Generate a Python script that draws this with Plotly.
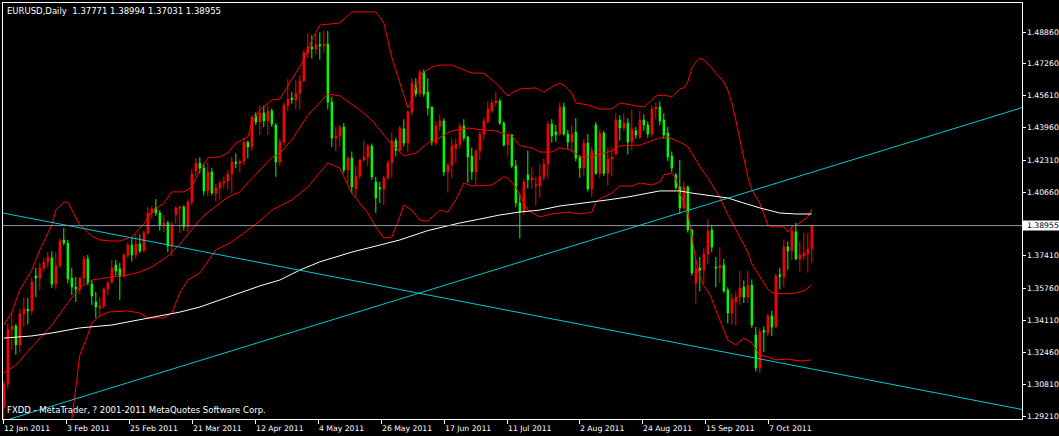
import plotly.graph_objects as go

# ---------------- data ----------------
opens = [
    1.2965, 1.3085, 1.3365, 1.3382, 1.3285, 1.3445, 1.3469, 1.3459, 1.3638, 1.3627,
    1.3679, 1.3709, 1.3730, 1.3596, 1.3690, 1.3822, 1.3806, 1.3627, 1.3581, 1.3571,
    1.3627, 1.3725, 1.3597, 1.3505, 1.3474, 1.3484, 1.3571, 1.3605, 1.3694, 1.3674,
    1.3638, 1.3745, 1.3796, 1.3745, 1.3801, 1.3766, 1.3858, 1.3960, 1.3986, 1.3960,
    1.3899, 1.3909, 1.3791, 1.3952, 1.3985, 1.3991, 1.3890, 1.4017, 1.4175, 1.4215,
    1.4190, 1.4073, 1.4170, 1.4060, 1.4088, 1.4114, 1.4124, 1.4160, 1.4221, 1.4214,
    1.4224, 1.4323, 1.4298, 1.4461, 1.4426, 1.4472, 1.4431, 1.4482, 1.4410, 1.4221,
    1.4323, 1.4513, 1.4548, 1.4540, 1.4574, 1.4636, 1.4779, 1.4810, 1.4799, 1.4822,
    1.4815, 1.4824, 1.4528, 1.4344, 1.4355, 1.4400, 1.4180, 1.4241, 1.4083, 1.4150,
    1.4231, 1.4246, 1.4303, 1.4119, 1.4090, 1.4083, 1.4139, 1.4216, 1.4330, 1.4280,
    1.4390, 1.4318, 1.4477, 1.4615, 1.4570, 1.4681, 1.4579, 1.4502, 1.4318, 1.4405,
    1.4431, 1.4170, 1.4206, 1.4290, 1.4312, 1.4405, 1.4349, 1.4252, 1.4170, 1.4277,
    1.4364, 1.4426, 1.4482, 1.4523, 1.4533, 1.4420, 1.4308, 1.4359, 1.4201, 1.4012,
    1.3965, 1.4155, 1.4130, 1.4100, 1.4100, 1.4145, 1.4211, 1.4415, 1.4375, 1.4364,
    1.4502, 1.4364, 1.4323, 1.4374, 1.4247, 1.4190, 1.4318, 1.4083, 1.4410, 1.4163,
    1.4369, 1.4163, 1.4236, 1.4262, 1.4436, 1.4395, 1.4420, 1.4323, 1.4380, 1.4349,
    1.4436, 1.4410, 1.4364, 1.4492, 1.4502, 1.4436, 1.4370, 1.4252, 1.4155, 1.4093,
    1.3986, 1.4093, 1.3873, 1.3600, 1.3679, 1.3668, 1.3750, 1.3873, 1.3684, 1.3679,
    1.3694, 1.3566, 1.3448, 1.3505, 1.3530, 1.3581, 1.3530, 1.3591, 1.3336, 1.3167,
    1.3360, 1.3346, 1.3433, 1.3377, 1.3645, 1.3633, 1.3786, 1.3766, 1.3863, 1.3725,
    1.3740, 1.3750, 1.37771,
]
highs = [
    1.3100, 1.3395, 1.3453, 1.3392, 1.3470, 1.3530, 1.3525, 1.3630, 1.3679, 1.3705,
    1.3730, 1.3760, 1.3765, 1.3760, 1.3830, 1.3883, 1.3822, 1.3678, 1.3633, 1.3633,
    1.3740, 1.3745, 1.3617, 1.3556, 1.3530, 1.3580, 1.3612, 1.3720, 1.3720, 1.3705,
    1.3755, 1.3810, 1.3835, 1.3850, 1.3850, 1.3870, 1.3990, 1.3995, 1.4032, 1.3975,
    1.3950, 1.3920, 1.3915, 1.3995, 1.3995, 1.4000, 1.4030, 1.4185, 1.4240, 1.4245,
    1.4210, 1.4220, 1.4190, 1.4110, 1.4125, 1.4145, 1.4180, 1.4245, 1.4265, 1.4235,
    1.4345, 1.4330, 1.4460, 1.4475, 1.4510, 1.4510, 1.4510, 1.4495, 1.4420, 1.4340,
    1.4525, 1.4645, 1.4580, 1.4640, 1.4665, 1.4795, 1.4880, 1.4870, 1.4880, 1.4885,
    1.4892, 1.4892, 1.4555, 1.4400, 1.4410, 1.4420, 1.4250, 1.4275, 1.4200, 1.4235,
    1.4330, 1.4315, 1.4315, 1.4145, 1.4120, 1.4150, 1.4230, 1.4375, 1.4345, 1.4405,
    1.4440, 1.4485, 1.4650, 1.4650, 1.4695, 1.4695, 1.4650, 1.4505, 1.4430, 1.4465,
    1.4445, 1.4215, 1.4340, 1.4340, 1.4420, 1.4440, 1.4355, 1.4295, 1.4285, 1.4380,
    1.4445, 1.4530, 1.4540, 1.4578, 1.4545, 1.4430, 1.4365, 1.4365, 1.4230, 1.4060,
    1.4135, 1.4280, 1.4195, 1.4145, 1.4210, 1.4240, 1.4430, 1.4440, 1.4410, 1.4525,
    1.4525, 1.4385, 1.4410, 1.4446, 1.4257, 1.4340, 1.4365, 1.4300, 1.4425, 1.4390,
    1.4380, 1.4290, 1.4295, 1.4470, 1.4460, 1.4470, 1.4445, 1.4490, 1.4400, 1.4480,
    1.4465, 1.4430, 1.4510, 1.4525, 1.4530, 1.4470, 1.4400, 1.4275, 1.4165, 1.4230,
    1.4120, 1.4100, 1.3880, 1.3720, 1.3735, 1.3780, 1.3930, 1.3900, 1.3735, 1.3785,
    1.3725, 1.3580, 1.3550, 1.3560, 1.3665, 1.3615, 1.3665, 1.3620, 1.3377, 1.3370,
    1.3380, 1.3445, 1.3460, 1.3650, 1.3680, 1.3825, 1.3815, 1.3890, 1.3910, 1.3815,
    1.3860, 1.3858, 1.38994,
]
lows = [
    1.2908, 1.3060, 1.3260, 1.3234, 1.3244, 1.3377, 1.3390, 1.3440, 1.3530, 1.3566,
    1.3660, 1.3680, 1.3576, 1.3570, 1.3680, 1.3796, 1.3600, 1.3540, 1.3505, 1.3545,
    1.3595, 1.3590, 1.3489, 1.3423, 1.3430, 1.3470, 1.3540, 1.3600, 1.3640, 1.3515,
    1.3630, 1.3730, 1.3712, 1.3725, 1.3755, 1.3760, 1.3850, 1.3930, 1.3945, 1.3870,
    1.3860, 1.3760, 1.3740, 1.3905, 1.3858, 1.3870, 1.3860, 1.4000, 1.4150, 1.4165,
    1.4050, 1.4045, 1.4050, 1.4020, 1.4030, 1.4085, 1.4080, 1.4060, 1.4190, 1.4165,
    1.4205, 1.4240, 1.4280, 1.4410, 1.4360, 1.4400, 1.4360, 1.4400, 1.4145, 1.4200,
    1.4305, 1.4480, 1.4520, 1.4490, 1.4490, 1.4630, 1.4755, 1.4750, 1.4770, 1.4745,
    1.4780, 1.4490, 1.4298, 1.4275, 1.4300, 1.4165, 1.4110, 1.4060, 1.4042, 1.4135,
    1.4225, 1.4200, 1.4130, 1.3960, 1.4010, 1.4000, 1.4130, 1.4140, 1.4250, 1.4270,
    1.4300, 1.4270, 1.4460, 1.4555, 1.4555, 1.4555, 1.4460, 1.4305, 1.4305, 1.4380,
    1.4150, 1.4065, 1.4140, 1.4215, 1.4290, 1.4330, 1.4114, 1.4130, 1.4100, 1.4230,
    1.4330, 1.4420, 1.4470, 1.4505, 1.4410, 1.4300, 1.4250, 1.4190, 1.3990, 1.3830,
    1.3950, 1.4085, 1.4085, 1.4000, 1.4040, 1.4125, 1.4135, 1.4320, 1.4325, 1.4355,
    1.4355, 1.4290, 1.4270, 1.4225, 1.4140, 1.4150, 1.4070, 1.4042, 1.4155, 1.4140,
    1.4150, 1.4100, 1.4150, 1.4255, 1.4330, 1.4380, 1.4260, 1.4280, 1.4340, 1.4335,
    1.4380, 1.4345, 1.4350, 1.4440, 1.4410, 1.4340, 1.4225, 1.4170, 1.4080, 1.3955,
    1.3975, 1.3860, 1.3640, 1.3495, 1.3560, 1.3600, 1.3700, 1.3760, 1.3581, 1.3600,
    1.3550, 1.3395, 1.3390, 1.3385, 1.3490, 1.3500, 1.3500, 1.3370, 1.3150, 1.3141,
    1.3250, 1.3330, 1.3330, 1.3370, 1.3570, 1.3580, 1.3670, 1.3720, 1.3720, 1.3660,
    1.3720, 1.3655, 1.37031,
]
closes = [
    1.3085, 1.3365, 1.3380, 1.3285, 1.3445, 1.3469, 1.3459, 1.3607, 1.3627, 1.3679,
    1.3709, 1.3735, 1.3596, 1.3690, 1.3817, 1.3806, 1.3622, 1.3581, 1.3571, 1.3627,
    1.3725, 1.3602, 1.3535, 1.3479, 1.3484, 1.3571, 1.3602, 1.3679, 1.3663, 1.3638,
    1.3745, 1.3796, 1.3745, 1.3801, 1.3766, 1.3858, 1.3960, 1.3981, 1.3960, 1.3899,
    1.3909, 1.3791, 1.3899, 1.3985, 1.3991, 1.3890, 1.4017, 1.4160, 1.4215, 1.4190,
    1.4073, 1.4170, 1.4063, 1.4088, 1.4114, 1.4124, 1.4160, 1.4221, 1.4214, 1.4224,
    1.4323, 1.4298, 1.4451, 1.4426, 1.4472, 1.4431, 1.4482, 1.4415, 1.4221, 1.4323,
    1.4513, 1.4543, 1.4540, 1.4574, 1.4636, 1.4779, 1.4810, 1.4799, 1.4820, 1.4815,
    1.4824, 1.4528, 1.4344, 1.4355, 1.4400, 1.4180, 1.4241, 1.4093, 1.4150, 1.4231,
    1.4246, 1.4303, 1.4145, 1.4037, 1.4083, 1.4139, 1.4216, 1.4330, 1.4280, 1.4395,
    1.4318, 1.4477, 1.4625, 1.4570, 1.4681, 1.4569, 1.4497, 1.4323, 1.4405, 1.4431,
    1.4170, 1.4206, 1.4303, 1.4312, 1.4405, 1.4344, 1.4247, 1.4170, 1.4277, 1.4364,
    1.4431, 1.4492, 1.4523, 1.4533, 1.4420, 1.4308, 1.4359, 1.4201, 1.4012, 1.3965,
    1.4120, 1.4130, 1.4140, 1.4105, 1.4145, 1.4211, 1.4415, 1.4354, 1.4360, 1.4502,
    1.4364, 1.4323, 1.4365, 1.4241, 1.4190, 1.4318, 1.4083, 1.4277, 1.4163, 1.4369,
    1.4163, 1.4236, 1.4245, 1.4436, 1.4395, 1.4420, 1.4323, 1.4390, 1.4359, 1.4436,
    1.4410, 1.4364, 1.4492, 1.4502, 1.4431, 1.4359, 1.4247, 1.4190, 1.4090, 1.3986,
    1.4093, 1.3873, 1.3653, 1.3674, 1.3668, 1.3750, 1.3868, 1.3786, 1.3679, 1.3690,
    1.3561, 1.3448, 1.3520, 1.3530, 1.3576, 1.3530, 1.3591, 1.3387, 1.3167, 1.3351,
    1.3350, 1.3433, 1.3377, 1.3638, 1.3635, 1.3786, 1.3766, 1.3868, 1.3725, 1.3745,
    1.3755, 1.3776, 1.38955,
]

# Bollinger bands (upper / middle / lower), sampled along the bars
ub_x = [0, 2, 4, 7, 9, 12, 13, 15, 16, 17, 19, 22, 24, 27, 29, 32, 33, 35, 37, 40,
        42, 45, 47, 49, 51, 54, 56, 58, 61, 62, 64, 67, 69, 72, 75, 77, 79, 84, 87, 93,
        95, 97, 99, 101, 102, 104, 107, 109, 112, 117, 120, 123, 126, 127, 129, 133, 135, 137, 139, 140,
        142, 143, 146, 149, 152, 154, 157, 160, 162, 163, 165, 167, 169, 170, 171, 172, 173, 174, 175, 177,
        178, 180, 181, 182, 183, 184, 185, 186, 187, 189, 191, 192, 195, 196, 197, 199, 201, 202]
ub_y = [1.3387, 1.3453, 1.3566, 1.3668, 1.3771, 1.3899, 1.3975, 1.4016, 1.4016, 1.3975,
        1.3899, 1.3842, 1.3822, 1.3817, 1.3817, 1.3837, 1.3858, 1.3904, 1.3965, 1.4011,
        1.4068, 1.4068, 1.4093, 1.4180, 1.4242, 1.4247, 1.4267, 1.4318, 1.4349, 1.4421,
        1.4487, 1.4538, 1.4543, 1.4641, 1.4743, 1.4845, 1.4922, 1.4932, 1.4989, 1.4989,
        1.4932, 1.4758, 1.4625, 1.4497, 1.4538, 1.4666, 1.4707, 1.4717, 1.4717, 1.4676,
        1.4676, 1.4625, 1.4559, 1.4574, 1.4595, 1.4600, 1.4579, 1.4605, 1.4625, 1.4615,
        1.4574, 1.4523, 1.4513, 1.4492, 1.4492, 1.4523, 1.4513, 1.4502, 1.4538, 1.4559,
        1.4564, 1.4554, 1.4595, 1.4600, 1.4630, 1.4702, 1.4733, 1.4753, 1.4743, 1.4702,
        1.4676, 1.4630, 1.4589, 1.4523, 1.4436, 1.4334, 1.4247, 1.4145, 1.4078, 1.4011,
        1.3899, 1.3889, 1.3889, 1.3863, 1.3889, 1.3909, 1.3940, 1.3981]

mb_x = [0, 3, 7, 12, 16, 19, 22, 27, 30, 34, 37, 41, 44, 47, 49, 51, 56, 59, 61, 65,
        67, 69, 72, 76, 81, 84, 89, 92, 96, 100, 103, 106, 109, 112, 116, 120, 123, 127, 129, 132,
        134, 137, 139, 142, 144, 147, 149, 152, 154, 159, 161, 164, 166, 169, 171, 174, 176, 179, 181, 182,
        184, 186, 187, 189, 191, 192, 196, 198, 200, 202]
mb_y = [1.3141, 1.3182, 1.3274, 1.3387, 1.3500, 1.3577, 1.3617, 1.3633, 1.3638, 1.3658,
        1.3684, 1.3740, 1.3800, 1.3873, 1.3925, 1.3963, 1.4042, 1.4068, 1.4115, 1.4200,
        1.4245, 1.4265, 1.4334, 1.4460, 1.4568, 1.4560, 1.4487, 1.4436, 1.4334, 1.4252,
        1.4267, 1.4318, 1.4346, 1.4380, 1.4395, 1.4385, 1.4380, 1.4354, 1.4305, 1.4293,
        1.4272, 1.4272, 1.4293, 1.4282, 1.4247, 1.4247, 1.4262, 1.4277, 1.4303, 1.4308,
        1.4323, 1.4344, 1.4349, 1.4323, 1.4300, 1.4198, 1.4141, 1.4040, 1.3952, 1.3915,
        1.3837, 1.3760, 1.3700, 1.3633, 1.3570, 1.3551, 1.3546, 1.3551, 1.3561, 1.3592]

lb_x = [17, 18, 19, 21, 22, 24, 26, 31, 34, 36, 40, 42, 44, 46, 49, 53, 57, 61, 64, 67,
        72, 76, 81, 84, 87, 91, 93, 95, 97, 99, 100, 102, 104, 106, 109, 111, 113, 115, 117, 122,
        125, 126, 128, 130, 131, 134, 137, 139, 141, 144, 147, 148, 149, 152, 154, 157, 159, 162, 164, 165,
        167, 168, 169, 171, 172, 173, 174, 175, 176, 177, 178, 179, 180, 181, 183, 185, 187, 189, 191, 193,
        196, 199, 202]
lb_y = [1.2901, 1.3054, 1.3233, 1.3336, 1.3397, 1.3433, 1.3453, 1.3459, 1.3448, 1.3423,
        1.3423, 1.3448, 1.3551, 1.3617, 1.3653, 1.3771, 1.3812, 1.3873, 1.3919, 1.3975,
        1.4027, 1.4093, 1.4216, 1.4190, 1.4062, 1.3960, 1.3889, 1.3832, 1.3837, 1.3940,
        1.4001, 1.3975, 1.3924, 1.3919, 1.3975, 1.3965, 1.4027, 1.4114, 1.4098, 1.4103,
        1.4145, 1.4139, 1.4093, 1.4011, 1.3975, 1.3940, 1.3955, 1.3960, 1.3965, 1.3955,
        1.3965, 1.4016, 1.4032, 1.4062, 1.4098, 1.4098, 1.4114, 1.4103, 1.4119, 1.4155,
        1.4165, 1.4139, 1.4062, 1.3965, 1.3832, 1.3720, 1.3638, 1.3587, 1.3561, 1.3520,
        1.3464, 1.3413, 1.3361, 1.3310, 1.3285, 1.3320, 1.3295, 1.3233, 1.3223, 1.3208,
        1.3213, 1.3203, 1.3208]

# long moving average (white)
ma_x = [0, 7, 12, 19, 27, 34, 39, 44, 49, 54, 59, 64, 69, 74, 79, 87, 94, 99, 106, 109,
        114, 119, 124, 129, 134, 139, 141, 146, 151, 156, 161, 164, 166, 169, 172, 176, 181, 185, 189, 194,
        198, 202]
ma_y = [1.3320, 1.3331, 1.3346, 1.3372, 1.3387, 1.3413, 1.3433, 1.3453, 1.3479, 1.3515,
        1.3551, 1.3587, 1.3617, 1.3668, 1.3710, 1.3760, 1.3796, 1.3822, 1.3870, 1.3885,
        1.3909, 1.3929, 1.3950, 1.3965, 1.3975, 1.3996, 1.4001, 1.4011, 1.4027, 1.4042,
        1.4062, 1.4073, 1.4073, 1.4073, 1.4062, 1.4052, 1.4037, 1.4011, 1.3986, 1.3960,
        1.3955, 1.3955]

# trend lines (two anchor points each)
tl_down_x = [-1, 255]
tl_down_y = [1.3963, 1.2953]
tl_up_x = [-1, 255]
tl_up_y = [1.2890, 1.4502]

bid_price = 1.38955
header = "EURUSD,Daily  1.37771 1.38994 1.37031 1.38955"
footer = "FXDD - MetaTrader, ? 2001-2011 MetaQuotes Software Corp."

x_tick_text = ["12 Jan 2011", "3 Feb 2011", "25 Feb 2011", "21 Mar 2011", "12 Apr 2011",
               "4 May 2011", "26 May 2011", "17 Jun 2011", "11 Jul 2011", "2 Aug 2011",
               "24 Aug 2011", "15 Sep 2011", "7 Oct 2011"]
x_tick_pos = [-0.15, 15.55, 31.3, 47.05, 62.8, 78.55, 94.3, 110.05, 125.8, 143.8,
              159.55, 175.3, 191.05]
y_tick_vals = [1.48860, 1.47260, 1.45610, 1.43960, 1.42310, 1.40660,
               1.37410, 1.35760, 1.34110, 1.32460, 1.30810, 1.29210]

# ---------------- figure ----------------
RED = "#FF0000"
LIME = "#00FF00"
CYAN = "#00C8D2"
FONT = "DejaVu Sans"
TICK_FONT = dict(family=FONT, size=7.7, color="white")

bars = list(range(len(closes)))

fig = go.Figure()
fig.add_trace(go.Candlestick(
    x=bars, open=opens, high=highs, low=lows, close=closes,
    increasing=dict(line=dict(color=RED, width=1), fillcolor=RED),
    decreasing=dict(line=dict(color=LIME, width=1), fillcolor=LIME),
    whiskerwidth=0, hoverinfo="skip", showlegend=False,
))
for xs, ys, col in [(ub_x, ub_y, RED), (mb_x, mb_y, RED), (lb_x, lb_y, RED),
                    (ma_x, ma_y, "#FFFFFF"),
                    (tl_down_x, tl_down_y, CYAN), (tl_up_x, tl_up_y, CYAN)]:
    fig.add_trace(go.Scatter(x=xs, y=ys, mode="lines",
                             line=dict(color=col, width=1),
                             hoverinfo="skip", showlegend=False))

# bid line and its price box
fig.add_shape(type="line", xref="paper", x0=0, x1=1, yref="y",
              y0=bid_price, y1=bid_price, line=dict(color="#8C98A8", width=1))
fig.add_shape(type="rect", xref="paper", xsizemode="pixel", xanchor=1, x0=1, x1=40,
              yref="y", ysizemode="pixel", yanchor=bid_price, y0=-5, y1=5,
              fillcolor="white", line=dict(width=0), layer="above")
fig.add_annotation(xref="paper", yref="y", x=1, y=bid_price,
                   xanchor="left", yanchor="middle", xshift=4, showarrow=False,
                   text=f"{bid_price:.5f}", borderpad=0,
                   font=dict(family=FONT, size=7.7, color="black"))

# header / footer texts
fig.add_annotation(xref="paper", yref="paper", x=0.0025, y=1 - 8.5 / 416,
                   xanchor="left", yanchor="middle", showarrow=False, borderpad=0,
                   text=header, font=dict(family=FONT, size=8.5, color="white"))
fig.add_annotation(xref="paper", yref="paper", x=0.0025, y=9 / 416,
                   xanchor="left", yanchor="middle", showarrow=False, borderpad=0,
                   text=footer, font=dict(family=FONT, size=8.5, color="white"))

# axis labels (MetaTrader style: right-hand prices, left-aligned dates)
for v in y_tick_vals:
    fig.add_annotation(xref="paper", yref="y", x=1, y=v, xanchor="left",
                       yanchor="middle", xshift=4, showarrow=False, borderpad=0,
                       text=f"{v:.5f}", font=TICK_FONT)
for p, t in zip(x_tick_pos, x_tick_text):
    fig.add_annotation(xref="x", yref="paper", x=p, y=0, xanchor="left",
                       yanchor="top", yshift=-4, xshift=0, showarrow=False,
                       borderpad=0, text=t, font=TICK_FONT)

fig.update_layout(
    width=1059, height=436,
    margin=dict(l=3, r=37, t=3, b=17),
    paper_bgcolor="black", plot_bgcolor="black",
    boxgap=0.5,
    showlegend=False,
    xaxis=dict(range=[-0.2, 254.55], showgrid=False, zeroline=False,
               showline=True, linecolor="white", linewidth=1, mirror=True,
               tickmode="array", tickvals=x_tick_pos, showticklabels=False,
               ticks="outside", ticklen=4, tickcolor="white",
               rangeslider=dict(visible=False), fixedrange=True),
    yaxis=dict(range=[1.2906, 1.50346], side="right", showgrid=False, zeroline=False,
               showline=True, linecolor="white", linewidth=1, mirror=True,
               tickmode="array", tickvals=y_tick_vals, showticklabels=False,
               ticks="outside", ticklen=3, tickcolor="white", fixedrange=True),
)

fig.write_html(
    "out.html",
    config={"displayModeBar": False},
    post_script="document.body.style.margin='0';document.body.style.background='black';"
                "document.body.style.overflow='hidden';",
)
